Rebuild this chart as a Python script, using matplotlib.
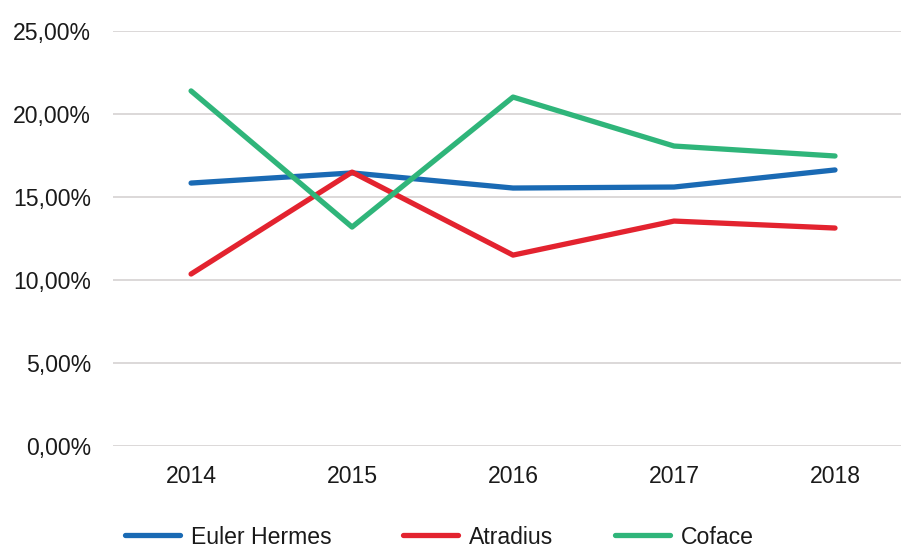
import matplotlib
matplotlib.use("Agg")
import matplotlib.pyplot as plt
from matplotlib.ticker import FuncFormatter

plt.rcParams['font.family'] = ['Liberation Sans', 'DejaVu Sans']

years = ["2014", "2015", "2016", "2017", "2018"]
euler_hermes = [15.84, 16.45, 15.54, 15.60, 16.63]
atradius = [10.36, 16.50, 11.50, 13.55, 13.13]
coface = [21.39, 13.19, 21.02, 18.07, 17.47]
yticks = [0, 5, 10, 15, 20, 25]

fig = plt.figure(figsize=(9.01, 5.47), dpi=100)
ax = fig.add_axes([113/901, (547-446)/547, 1 - 113/901, (446-31)/547])

x = list(range(len(years)))
l1, = ax.plot(x, euler_hermes, color='#1a6ab4', lw=3.8, label='Euler Hermes', solid_capstyle='round', zorder=3)
l2, = ax.plot(x, atradius, color='#e3232f', lw=3.8, label='Atradius', solid_capstyle='round', zorder=3)
l3, = ax.plot(x, coface, color='#2fb57a', lw=3.8, label='Coface', solid_capstyle='round', zorder=3)

ax.set_ylim(0, 25)
ax.set_yticks(yticks)
ax.yaxis.set_major_formatter(FuncFormatter(lambda v, p: f"{v:.2f}".replace('.', ',') + '%'))
ax.set_xticks(x)
ax.set_xticklabels(years)
ax.set_xlim(-0.485, (901 - 191) / 161)
ax.grid(axis='y', color='#d9d6d6', lw=1.3)
ax.set_axisbelow(True)
for s in ax.spines.values():
    s.set_visible(False)
ax.tick_params(axis='both', length=0, labelsize=16.6, colors='#1a1a1a')
ax.tick_params(axis='y', pad=15.8)
ax.tick_params(axis='x', pad=14)

starts = [125, 403, 615]
for h, xs in zip([l1, l2, l3], starts):
    leg = fig.legend(handles=[h], loc='center left', bbox_to_anchor=(xs/901, 1 - 537/547),
                     frameon=False, fontsize=16.6, handlelength=2.4, handletextpad=0.45,
                     borderpad=0, borderaxespad=0)
    for t in leg.get_texts():
        t.set_color('#1a1a1a')

fig.savefig('out.png', dpi=100)
